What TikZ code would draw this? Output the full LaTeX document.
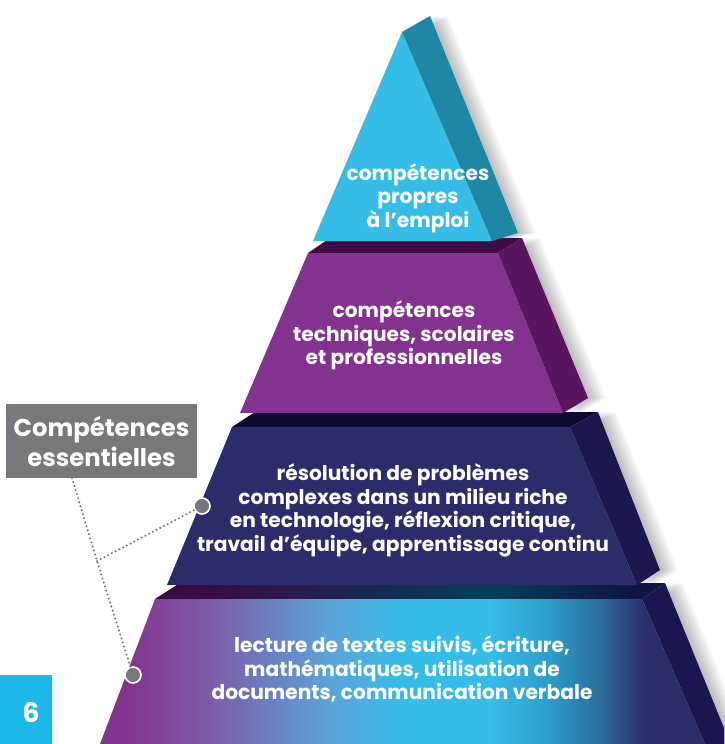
\documentclass[tikz,border=0pt]{standalone}
\usepackage{fontspec}
\setmainfont{Poppins}
\definecolor{apexcyan}{RGB}{53,189,232}
\definecolor{apexside}{RGB}{31,134,163}
\definecolor{techpurple}{RGB}{131,51,143}
\definecolor{techside}{RGB}{90,21,96}
\definecolor{techtop}{RGB}{62,11,69}
\definecolor{solvenavy}{RGB}{43,45,107}
\definecolor{solveside}{RGB}{27,24,80}
\definecolor{solvetop}{RGB}{12,10,48}
\definecolor{baseside}{RGB}{26,22,80}
\definecolor{baselav}{RGB}{125,91,168}
\definecolor{basesky}{RGB}{91,163,216}
\definecolor{baseteal}{RGB}{46,158,203}
\definecolor{basesteel}{RGB}{44,106,154}
\definecolor{topplum}{RGB}{58,12,69}
\definecolor{topdusk}{RGB}{26,37,80}
\definecolor{topteal}{RGB}{6,64,90}
\definecolor{topnavy}{RGB}{13,20,64}
\definecolor{labelgray}{RGB}{119,120,123}
\definecolor{pagecyan}{RGB}{29,184,232}
% purple -> cyan -> navy across the widest tier
\pgfdeclarehorizontalshading{basefront}{100bp}{color(0bp)=(techpurple); color(27bp)=(techpurple);
  color(34bp)=(baselav); color(44bp)=(basesky); color(50bp)=(apexcyan); color(57bp)=(apexcyan);
  color(62bp)=(baseteal); color(66.5bp)=(basesteel); color(70bp)=(solvenavy); color(100bp)=(solvenavy)}
\pgfdeclarehorizontalshading{basetop}{100bp}{color(0bp)=(topplum); color(30bp)=(topplum);
  color(45bp)=(topdusk); color(58bp)=(topteal); color(72bp)=(topnavy); color(100bp)=(topnavy)}
\tikzstyle{tiertext} = [text=white, align=center, inner sep=0pt,
    font=\bfseries\fontsize{20.2}{23.5}\selectfont]
\tikzstyle{namebox} = [fill=labelgray, text=white, align=center, inner sep=0pt,
    minimum width=191pt, minimum height=74pt, font=\bfseries\fontsize{24.3}{30}\selectfont]
\tikzstyle{pagenum} = [text=white, inner sep=0pt, font=\bfseries\fontsize{27}{27}\selectfont]
\tikzstyle{dotmark} = [circle, fill=labelgray, draw=white, line width=1.6pt,
    inner sep=0pt, minimum size=16pt]
\tikzstyle{leader} = [draw=labelgray, line width=2.3pt, line cap=round, dash pattern=on 0pt off 4.2pt]

\begin{document}
\begin{tikzpicture}[x=1pt, y=-1pt]
  \useasboundingbox (0,0) rectangle (724,744);

  % soft shadow to the right of the side faces
  \foreach \s in {2,4,...,18} {
    \begin{scope}[xshift=\s pt]
      \fill[black, opacity=0.03] (402,32) -- (430,16) -- (518,233) -- (492,241) -- cycle;
      \fill[black, opacity=0.03] (498,253) -- (522,238) -- (588,398) -- (563,413) -- cycle;
      \fill[black, opacity=0.03] (570,427) -- (598,412) -- (660,570) -- (637,585) -- cycle;
      \fill[black, opacity=0.03] (642,599) -- (665,583) -- (724,728) -- (724,744) -- (705,744) -- cycle;
    \end{scope}
  }

  % base tier
  \shade[shading=basetop] (155,599) -- (642,599) -- (665,583) -- (180,583) -- cycle;
  \shade[shading=basefront] (155,599) -- (642,599) -- (705,744) -- (100,744) -- cycle;
  \fill[baseside] (642,599) -- (665,583) -- (724,728) -- (724,744) -- (705,744) -- cycle;

  % problem solving tier
  \fill[solvetop] (232,427) -- (570,427) -- (598,412) -- (255,412) -- cycle;
  \fill[solvenavy] (232,427) -- (570,427) -- (637,585) -- (167,585) -- cycle;
  \fill[solveside] (570,427) -- (598,412) -- (660,570) -- (637,585) -- cycle;

  % technical tier
  \fill[techtop] (308,253) -- (498,253) -- (522,238) -- (330,238) -- cycle;
  \fill[techpurple] (308,253) -- (498,253) -- (563,413) -- (240,413) -- cycle;
  \fill[techside] (498,253) -- (522,238) -- (588,398) -- (563,413) -- cycle;

  % job specific tier
  \fill[apexcyan] (402,32) -- (492,241) -- (313,241) -- cycle;
  \fill[apexside] (402,32) -- (430,16) -- (518,233) -- (492,241) -- cycle;

  \node[tiertext] (apex_text) at (418,198) {compétences\\propres\\à l’emploi};
  \node[tiertext] (tech_text) at (404,335.5) {compétences\\techniques, scolaires\\et professionnelles};
  \node[tiertext] (solve_text) at (403,510.5)
    {résolution de problèmes\\complexes dans un milieu riche\\en technologie, réflexion critique,\\travail d’équipe, apprentissage continu};
  \node[tiertext] (base_text) at (402,669)
    {lecture de textes suivis, écriture,\\mathématiques, utilisation de\\documents, communication verbale};

  % essential skills callout
  \node[namebox] (essentials) at (101.5,441) {Compétences\\essentielles};
  \coordinate (tag_foot) at (72,478);
  \coordinate (fork) at (97,561);
  \node[dotmark] (solve_pin) at (202,506) {};
  \node[dotmark] (base_pin) at (133,675) {};
  \draw[leader] (tag_foot) -- (fork) -- (base_pin);
  \draw[leader] (fork) -- (solve_pin);

  % page number
  \fill[pagecyan] (0,675) rectangle (52,744);
  \node[pagenum] (page_no) at (31,712.5) {6};
\end{tikzpicture}
\end{document}
